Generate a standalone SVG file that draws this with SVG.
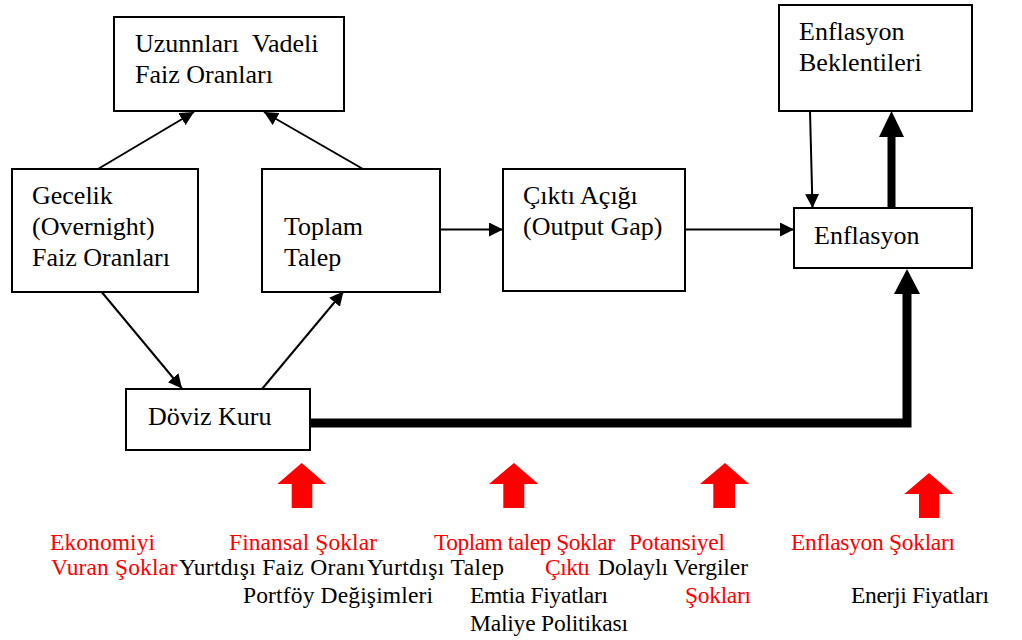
<svg xmlns="http://www.w3.org/2000/svg" width="1022" height="640" viewBox="0 0 1022 640">
<defs>
<style>
.box{fill:#fff;stroke:#000;stroke-width:2}
.t{font-size:26px;fill:#000}
.b{font-size:23.5px}
.red{fill:#ff0000}
.blk{fill:#000}
.ln{stroke:#000;stroke-width:2;fill:none}
.thick{stroke:#000;stroke-width:9;fill:none}
.shock{fill:#ff0000}
</style>
<marker id="ah" viewBox="0 0 10 10" refX="10" refY="5" markerWidth="7" markerHeight="7" markerUnits="strokeWidth" orient="auto">
<path d="M0,0 L10,5 L0,10 z" fill="#000"/>
</marker>
</defs>
<rect width="1022" height="640" fill="#fff"/>

<g id="connectors">
<line class="ln" x1="98" y1="169" x2="194" y2="112" marker-end="url(#ah)"/>
<line class="ln" x1="363" y1="169" x2="264" y2="112" marker-end="url(#ah)"/>
<line class="ln" x1="440" y1="229.5" x2="503" y2="229.5" marker-end="url(#ah)"/>
<line class="ln" x1="685" y1="229.5" x2="794" y2="229.5" marker-end="url(#ah)"/>
<line class="ln" x1="810" y1="111" x2="812.5" y2="208" marker-end="url(#ah)"/>
<line class="ln" x1="100" y1="290" x2="182" y2="388.5" marker-end="url(#ah)"/>
<line class="ln" x1="262" y1="389" x2="343.5" y2="291.5" marker-end="url(#ah)"/>
<line x1="891.5" y1="208" x2="891.5" y2="134" stroke="#000" stroke-width="8"/>
<polygon points="879,137 891.5,111 904,137" fill="#000"/>
<polyline points="310,423 907,423 907,292" class="thick" stroke-linejoin="miter"/>
<polygon points="894,294 907,269 920,294" fill="#000"/>
</g>

<g font-family="Liberation Serif, Times New Roman, serif">
<g id="node-uzun">
<rect class="box" x="114" y="17" width="230" height="94"/>
<text class="t" x="135" y="52">Uzunnları<tspan x="252">Vadeli</tspan></text>
<text class="t" x="135" y="83">Faiz Oranları</text>
</g>

<g id="node-gecelik">
<rect class="box" x="12" y="169" width="186" height="123"/>
<text class="t" x="32" y="204">Gecelik</text>
<text class="t" x="32" y="235">(Overnight)</text>
<text class="t" x="32" y="266">Faiz Oranları</text>
</g>

<g id="node-toplam">
<rect class="box" x="262" y="169" width="178" height="123"/>
<text class="t" x="284" y="235">Toplam</text>
<text class="t" x="284" y="266">Talep</text>
</g>

<g id="node-cikti">
<rect class="box" x="503" y="169" width="182" height="122"/>
<text class="t" x="523" y="204">Çıktı Açığı</text>
<text class="t" x="523" y="235">(Output Gap)</text>
</g>

<g id="node-beklenti">
<rect class="box" x="779" y="5" width="193" height="106"/>
<text class="t" x="799" y="40">Enflasyon</text>
<text class="t" x="799" y="71">Beklentileri</text>
</g>

<g id="node-enflasyon">
<rect class="box" x="794" y="208" width="178" height="60"/>
<text class="t" x="814" y="244">Enflasyon</text>
</g>

<g id="node-doviz">
<rect class="box" x="126" y="389" width="184" height="61"/>
<text class="t" x="148" y="425">Döviz Kuru</text>
</g>

<g id="shock-labels" lengthAdjust="spacing">
<text class="b red" x="50" y="550" textLength="105">Ekonomiyi</text>
<text class="b red" x="51" y="575" textLength="126">Vuran Şoklar</text>
<text class="b blk" x="179" y="575" textLength="186">Yurtdışı Faiz Oranı</text>
<text class="b red" x="229" y="550" textLength="148">Finansal Şoklar</text>
<text class="b blk" x="243" y="603" textLength="190">Portföy Değişimleri</text>
<text class="b red" x="434" y="550" textLength="181">Toplam talep Şoklar</text>
<text class="b red" x="629" y="550" textLength="96">Potansiyel</text>
<text class="b blk" x="367" y="575" textLength="137">Yurtdışı Talep</text>
<text class="b blk" x="470" y="603" textLength="138">Emtia Fiyatları</text>
<text class="b blk" x="470" y="631" textLength="158">Maliye Politikası</text>
<text class="b red" x="545" y="575" textLength="45">Çıktı</text>
<text class="b blk" x="598" y="575" textLength="150">Dolaylı Vergiler</text>
<text class="b red" x="685" y="603" textLength="66">Şokları</text>
<text class="b red" x="791" y="550" textLength="164">Enflasyon Şokları</text>
<text class="b blk" x="851" y="603" textLength="138">Enerji Fiyatları</text>
</g>
</g>

<g id="shock-arrows">
<polygon class="shock" points="301.7,463 326,484 312.3,484 312.3,508 291.7,508 291.7,484 277.3,484"/>
<polygon class="shock" points="514,463 538.3,484 524.3,484 524.3,508 503.3,508 503.3,484 489,484"/>
<polygon class="shock" points="725,463 749,484 735,484 735,508 713.3,508 713.3,484 700,484"/>
<polygon class="shock" points="929,473 953.3,494 939.3,494 939.3,518 919,518 919,494 904.3,494"/>
</g>
</svg>
